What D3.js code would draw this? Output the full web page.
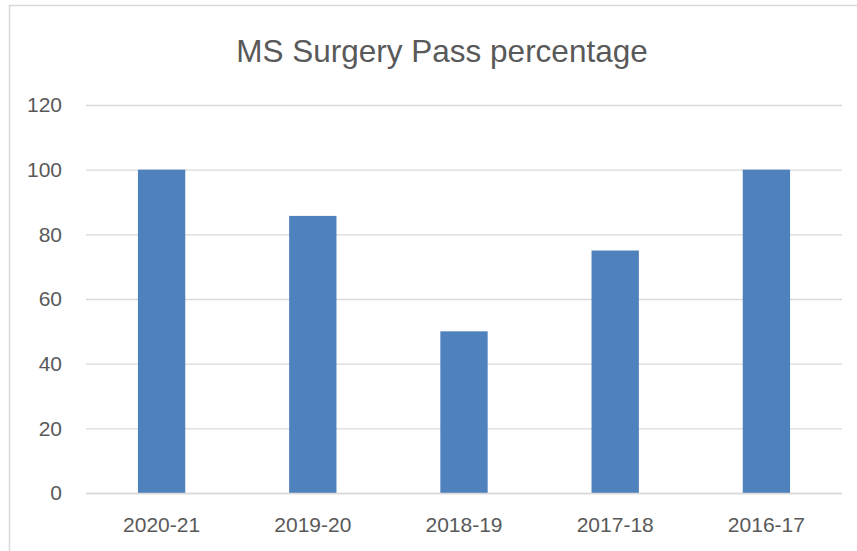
<!DOCTYPE html>
<html>
<head>
<meta charset="utf-8">
<script src="https://cdn.jsdelivr.net/npm/d3@7"></script>
<style>
  body { margin: 0; background: #fff; }
  text { font-family: "Liberation Sans", Arial, sans-serif; fill: #595959; }
</style>
</head>
<body>
<div id="chart"></div>
<script>

var years = ["2020-21", "2019-20", "2018-19", "2017-18", "2016-17"];
var passPct = [100, 85.7, 50, 75, 100];
var yTicks = [0, 20, 40, 60, 80, 100, 120];

var width = 857, height = 551;
var plotLeft = 86, plotRight = 842, plotTop = 105, plotBottom = 493;

var svg = d3.select("#chart").append("svg")
    .attr("width", width)
    .attr("height", height);

// chart frame, runs off the right and bottom edges
svg.append("rect")
    .attr("x", 9.5)
    .attr("y", 5.5)
    .attr("width", 900)
    .attr("height", 600)
    .attr("fill", "none")
    .attr("stroke", "#d9d9d9")
    .attr("stroke-width", 1.5);

svg.append("text")
    .attr("x", 442)
    .attr("y", 62)
    .attr("text-anchor", "middle")
    .style("font-size", "31.5px")
    .text("MS Surgery Pass percentage");

var x = d3.scaleBand()
    .domain(years)
    .range([plotLeft, plotRight])
    .paddingInner(0.687)
    .paddingOuter(0.3435);

var y = d3.scaleLinear()
    .domain([0, 120])
    .range([plotBottom, plotTop]);

//gridlines + y labels
var yAxis = d3.axisLeft(y)
    .tickValues(yTicks)
    .tickSize(-(plotRight - plotLeft))
    .tickPadding(24);

svg.append("g")
    .attr("transform", "translate(" + plotLeft + ",0)")
    .call(yAxis)
    .call(function(g) {
        g.select(".domain").remove();
        g.selectAll(".tick line").attr("stroke", "#d9d9d9").attr("stroke-width", 1.3);
        g.selectAll(".tick text")
            .attr("fill", "#595959")
            .style("font-size", "21px")
            .style("font-family", "'Liberation Sans', Arial, sans-serif");
    });

svg.selectAll(".bar")
    .data(passPct)
    .enter().append("rect")
    .attr("class", "bar")
    .attr("x", function(d, i) { return x(years[i]); })
    .attr("width", x.bandwidth())
    .attr("y", function(d) { return y(d); })
    .attr("height", function(d) { return plotBottom - y(d); })
    .attr("fill", "#4f81bd");

var xAxis = d3.axisBottom(x)
    .tickSize(0)
    .tickPadding(24);

svg.append("g")
    .attr("transform", "translate(0," + plotBottom + ")")
    .call(xAxis)
    .call(function(g) {
        g.select(".domain").attr("stroke", "#d9d9d9").attr("stroke-width", 1.3)
            .attr("d", "M" + plotLeft + ",0.5H" + plotRight);
        g.selectAll(".tick text")
            .attr("fill", "#595959")
            .style("font-size", "21px")
            .style("font-family", "'Liberation Sans', Arial, sans-serif");
    });
</script>
</body>
</html>
